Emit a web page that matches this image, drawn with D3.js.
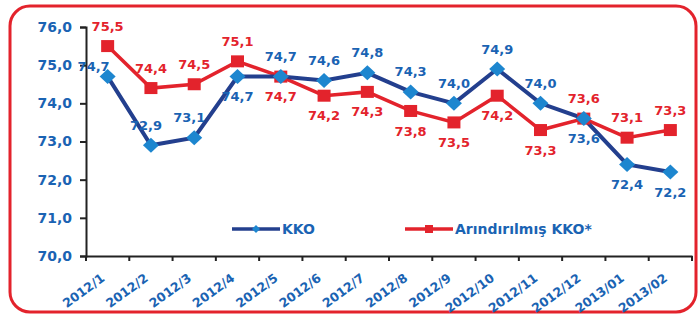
<!DOCTYPE html>
<html>
<head>
<meta charset="utf-8">
<script src="https://d3js.org/d3.v7.min.js"></script>
<style>
  body { margin: 0; background: #fff; }
  text { font-family: "DejaVu Sans", sans-serif; font-weight: bold; }
</style>
</head>
<body>
<div id="chart"></div>
<script>
// months on the x axis
const months = ["2012/1", "2012/2", "2012/3", "2012/4", "2012/5", "2012/6", "2012/7",
  "2012/8", "2012/9", "2012/10", "2012/11", "2012/12", "2013/01", "2013/02"];

// series values
const kko = [74.7, 72.9, 73.1, 74.7, 74.7, 74.6, 74.8, 74.3, 74.0, 74.9, 74.0, 73.6, 72.4, 72.2];
const arindirilmis = [75.5, 74.4, 74.5, 75.1, 74.7, 74.2, 74.3, 73.8, 73.5, 74.2, 73.3, 73.6, 73.1, 73.3];

// y tick labels
const yTicks = [70, 71, 72, 73, 74, 75, 76];

const width = 700;
const height = 316;

const blueText = "#1a63b3";
const navy = "#233f8e";
const diamondFill = "#1d86cf";
const red = "#e3232c";

// label above (-1) or below (+1) each point
const kkoSide = [-1, -1, -1, 1, -1, -1, -1, -1, -1, -1, -1, 1, 1, 1];
const arSide = [-1, -1, -1, -1, 1, 1, 1, 1, 1, 1, 1, -1, -1, -1];

const fmt = v => d3.format(".1f")(v).replace(".", ",");

const svg = d3.select("#chart")
  .append("svg")
  .attr("width", width)
  .attr("height", height);

// red rounded frame
svg.append("rect")
  .attr("x", 10).attr("y", 6)
  .attr("width", 686).attr("height", 306)
  .attr("rx", 20)
  .attr("fill", "none")
  .attr("stroke", red)
  .attr("stroke-width", 3);

const x = d3.scaleBand()
  .domain(months)
  .range([86, 692]);

const y = d3.scaleLinear()
  .domain([70, 76])
  .range([256, 27]);

const cx = d => x(d) + x.bandwidth() / 2;

// y axis
const yAxis = svg.append("g")
  .attr("transform", "translate(86,0)")
  .call(d3.axisLeft(y).tickValues(yTicks).tickFormat(fmt).tickSize(6).tickPadding(8));
yAxis.select(".domain").attr("stroke", "#222").attr("stroke-width", 2);
yAxis.selectAll(".tick line").attr("stroke", "#222").attr("stroke-width", 2);
yAxis.selectAll(".tick text")
  .attr("fill", blueText)
  .style("font-size", "14px");

// x axis
const xAxis = svg.append("g")
  .attr("transform", "translate(0,256)")
  .call(d3.axisBottom(x).tickSize(0).tickFormat(""));
xAxis.select(".domain").attr("stroke", "#222").attr("stroke-width", 2);

// tick marks on the band edges
svg.append("g")
  .selectAll("line")
  .data(months.concat(["end"]))
  .join("line")
  .attr("x1", (d, i) => i < months.length ? x(d) : x.range()[1])
  .attr("x2", (d, i) => i < months.length ? x(d) : x.range()[1])
  .attr("y1", 256)
  .attr("y2", 261)
  .attr("stroke", "#222")
  .attr("stroke-width", 2);

// rotated month labels
svg.append("g")
  .selectAll("text")
  .data(months)
  .join("text")
  .attr("transform", d => `translate(${cx(d) - 2},280) rotate(-36)`)
  .attr("text-anchor", "end")
  .attr("fill", blueText)
  .style("font-size", "12.5px")
  .text(d => d);

const line = d3.line()
  .x((d, i) => cx(months[i]))
  .y(d => y(d));

// red series
svg.append("path")
  .datum(arindirilmis)
  .attr("d", line)
  .attr("fill", "none")
  .attr("stroke", red)
  .attr("stroke-width", 3.5);

// blue series
svg.append("path")
  .datum(kko)
  .attr("d", line)
  .attr("fill", "none")
  .attr("stroke", navy)
  .attr("stroke-width", 4);

// markers
svg.append("g")
  .selectAll("rect")
  .data(arindirilmis)
  .join("rect")
  .attr("x", (d, i) => cx(months[i]) - 6.5)
  .attr("y", d => y(d) - 6)
  .attr("width", 13)
  .attr("height", 12)
  .attr("fill", red);

const diamond = (px, py, w, h) => `M${px},${py - h}L${px + w},${py}L${px},${py + h}L${px - w},${py}Z`;

svg.append("g")
  .selectAll("path")
  .data(kko)
  .join("path")
  .attr("d", (d, i) => diamond(cx(months[i]), y(d), 8, 7.5))
  .attr("fill", diamondFill);

// value labels
svg.append("g")
  .selectAll("text")
  .data(arindirilmis)
  .join("text")
  .attr("x", (d, i) => cx(months[i]))
  .attr("y", (d, i) => y(d) + arSide[i] * 20)
  .attr("dy", "0.35em")
  .attr("text-anchor", "middle")
  .attr("fill", red)
  .style("font-size", "13px")
  .text(fmt);

svg.append("g")
  .selectAll("text")
  .data(kko)
  .join("text")
  .attr("x", (d, i) => cx(months[i]) + (i === 0 ? -14 : i < 3 ? -5 : 0))
  .attr("y", (d, i) => y(d) + kkoSide[i] * (i === 0 ? 10 : 20))
  .attr("dy", "0.35em")
  .attr("text-anchor", "middle")
  .attr("fill", blueText)
  .style("font-size", "13px")
  .text(fmt);

// legend
const legend = [
  { name: "KKO", x0: 232, stroke: navy, fill: diamondFill, shape: "diamond" },
  { name: "Arındırılmış KKO*", x0: 405, stroke: red, fill: red, shape: "square" }
];

const lg = svg.append("g")
  .selectAll("g")
  .data(legend)
  .join("g")
  .attr("transform", d => `translate(${d.x0},229)`);

lg.append("line")
  .attr("x1", 0).attr("x2", 48)
  .attr("stroke", d => d.stroke)
  .attr("stroke-width", 3.5);

lg.append("path")
  .attr("d", d => d.shape === "diamond" ? diamond(24, 0, 4, 4) : "M20,-4h8v8h-8Z")
  .attr("fill", d => d.fill);

lg.append("text")
  .attr("x", 50)
  .attr("dy", "0.35em")
  .attr("fill", blueText)
  .style("font-size", "14px")
  .text(d => d.name);
</script>
</body>
</html>
